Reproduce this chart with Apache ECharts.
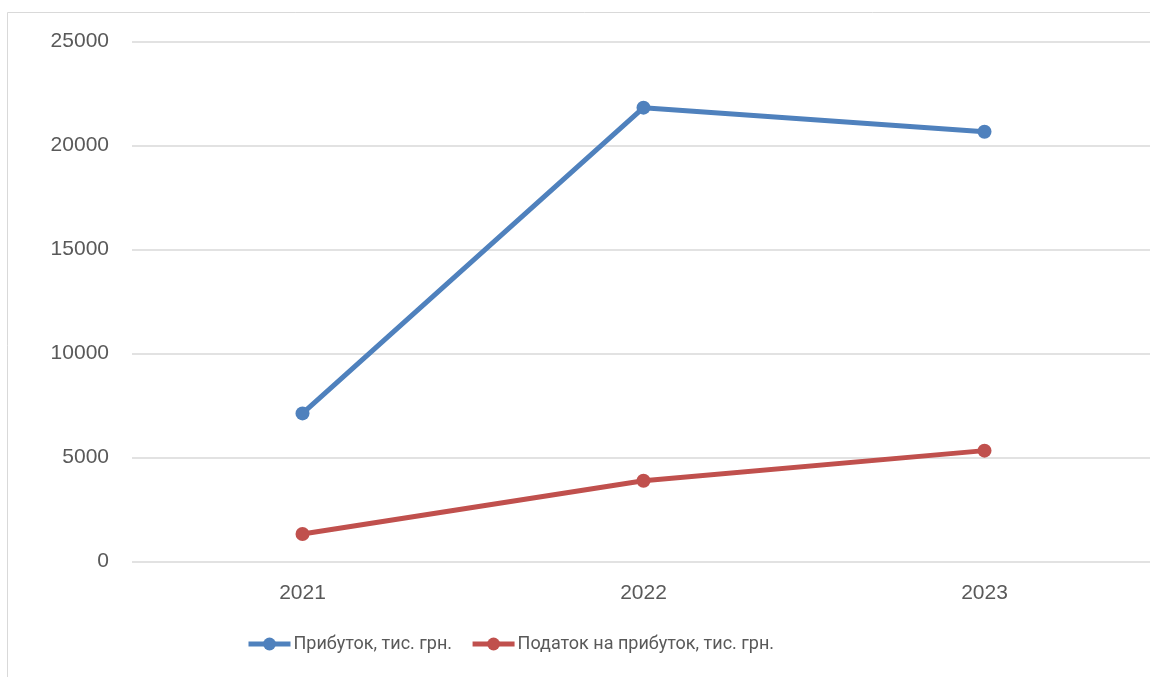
<!DOCTYPE html>
<html>
<head>
<meta charset="utf-8">
<script src="https://cdn.jsdelivr.net/npm/echarts@6/dist/echarts.min.js"></script>
<style>
  html, body { margin: 0; padding: 0; background: #fff; overflow: hidden; }
  /* the chart frame runs slightly past the right edge of the window */
  #chart { width: 1160px; height: 677px; }
</style>
</head>
<body>
<div id="chart"></div>
<script>
// Profit and profit tax by year, thousand UAH
const years = ['2021', '2022', '2023'];
const profit = [7130, 21830, 20670];
const profitTax = [1330, 3890, 5340];
const seriesNames = ['Прибуток, тис. грн.', 'Податок на прибуток, тис. грн.'];
const seriesColors = ['#4F81BD', '#C0504D'];

const FONT = '"Liberation Sans", Arial, sans-serif';
const LEGEND_FONT = 'Roboto, "Liberation Sans", Arial, sans-serif';
const TEXT_COLOR = '#595959';

const chart = echarts.init(document.getElementById('chart'), null, { renderer: 'canvas' });

function lineSeries(name, data, color) {
  return {
    name: name,
    type: 'line',
    data: data,
    symbol: 'circle',
    symbolSize: 14,
    lineStyle: { color: color, width: 5 },
    itemStyle: { color: color },
    emphasis: { disabled: true },
    animation: false
  };
}

chart.setOption({
  animation: false,
  backgroundColor: '#ffffff',
  graphic: [{
    type: 'rect',
    shape: { x: 7.5, y: 12.5, width: 1170, height: 700 },
    style: { fill: 'none', stroke: '#d9d9d9', lineWidth: 1 },
    silent: true,
    z: -1
  }],
  grid: { left: 132, width: 1023, top: 41.7, height: 520 },
  xAxis: {
    type: 'category',
    data: years,
    boundaryGap: true,
    axisLine: { show: false },
    axisTick: { show: false },
    axisLabel: { color: TEXT_COLOR, fontFamily: FONT, fontSize: 21, margin: 21 }
  },
  yAxis: {
    type: 'value',
    min: 0,
    max: 25000,
    interval: 5000,
    axisLine: { show: false },
    axisTick: { show: false },
    splitLine: { lineStyle: { color: '#d9d9d9', width: 1.5 } },
    axisLabel: {
      color: TEXT_COLOR, fontFamily: FONT, fontSize: 21, margin: 23,
      formatter: function (v) { return String(v); }
    }
  },
  legend: {
    top: 630,
    left: 241,
    itemWidth: 42,
    itemHeight: 16,
    itemGap: 18,
    lineStyle: { width: 5 },
    textStyle: { color: TEXT_COLOR, fontFamily: LEGEND_FONT, fontSize: 18, padding: [0, 0, 0, -2] },
    data: seriesNames
  },
  series: [
    lineSeries(seriesNames[0], profit, seriesColors[0]),
    lineSeries(seriesNames[1], profitTax, seriesColors[1])
  ]
});
</script>
</body>
</html>
